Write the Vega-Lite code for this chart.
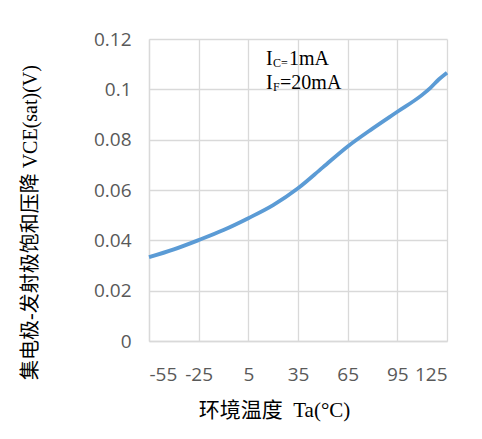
{
  "$schema": "https://vega.github.io/schema/vega-lite/v6.json",
  "autosize": {"type": "none"},
  "width": 298,
  "height": 302,
  "padding": {"left": 149, "top": 39, "right": 35, "bottom": 98},
  "background": "white",
  "config": {
    "view": {"stroke": null},
    "axis": {
      "labelFont": "Open Sans",
      "labelFontSize": 19,
      "labelColor": "#595959",
      "gridColor": "#d9d9d9",
      "gridWidth": 1.3,
      "domainColor": "#d9d9d9",
      "domainWidth": 1.3,
      "ticks": false
    },
    "text": {"font": "Liberation Serif", "color": "#000000", "align": "left", "baseline": "alphabetic"}
  },
  "datasets": {
    "curve": [
      {"Ta": -55, "V": 0.0333},
      {"Ta": -40, "V": 0.0364},
      {"Ta": -25, "V": 0.0401},
      {"Ta": -10, "V": 0.0441},
      {"Ta": 5, "V": 0.0488},
      {"Ta": 20, "V": 0.054},
      {"Ta": 35, "V": 0.0607},
      {"Ta": 50, "V": 0.069},
      {"Ta": 65, "V": 0.0773},
      {"Ta": 80, "V": 0.0844},
      {"Ta": 95, "V": 0.0911},
      {"Ta": 110, "V": 0.0978},
      {"Ta": 115, "V": 0.1006},
      {"Ta": 120, "V": 0.1039},
      {"Ta": 125, "V": 0.1066}
    ],
    "note": [{}]
  },
  "layer": [
    {
      "data": {"name": "curve"},
      "mark": {"type": "line", "color": "#5b9bd5", "strokeWidth": 3.8, "interpolate": "monotone"},
      "encoding": {
        "x": {
          "field": "Ta", "type": "quantitative",
          "scale": {"domain": [-55, 125], "nice": false, "zero": false},
          "axis": {
            "values": [-55, -25, 5, 35, 65, 95, 125],
            "labelExpr": "'' + datum.value",
            "labelPadding": 24,
            "title": "环境温度\u00a0\u00a0Ta(°C)",
            "titleFont": "Liberation Serif, Noto Sans CJK SC",
            "titleFontWeight": "normal",
            "titleFontSize": 21,
            "titleColor": "#000000",
            "titleX": 125,
            "titleY": 69,
            "titleBaseline": "middle",
            "titleAlign": "center"
          }
        },
        "y": {
          "field": "V", "type": "quantitative",
          "scale": {"domain": [0, 0.12], "nice": false},
          "axis": {
            "values": [0, 0.02, 0.04, 0.06, 0.08, 0.1, 0.12],
            "format": ".2~f",
            "labelPadding": 18,
            "title": "集电极-发射极饱和压降 VCE(sat)(V)",
            "titleFont": "Liberation Serif, Noto Sans CJK SC",
            "titleFontWeight": "normal",
            "titleFontSize": 20,
            "titleColor": "#000000",
            "titleAngle": -90,
            "titleX": -119,
            "titleY": 183,
            "titleBaseline": "middle",
            "titleAlign": "center"
          }
        }
      }
    },
    {
      "data": {"name": "note"},
      "mark": {"type": "text", "text": "I", "fontSize": 20},
      "encoding": {"x": {"datum": 15.7}, "y": {"datum": 0.1096}}
    },
    {
      "data": {"name": "note"},
      "mark": {"type": "text", "text": "C=", "fontSize": 12, "dx": 7, "dy": 2},
      "encoding": {"x": {"datum": 15.7}, "y": {"datum": 0.1096}}
    },
    {
      "data": {"name": "note"},
      "mark": {"type": "text", "text": "1mA", "fontSize": 20, "dx": 23},
      "encoding": {"x": {"datum": 15.7}, "y": {"datum": 0.1096}}
    },
    {
      "data": {"name": "note"},
      "mark": {"type": "text", "text": "I", "fontSize": 20},
      "encoding": {"x": {"datum": 15.7}, "y": {"datum": 0.1}}
    },
    {
      "data": {"name": "note"},
      "mark": {"type": "text", "text": "F", "fontSize": 12, "dx": 7, "dy": 2},
      "encoding": {"x": {"datum": 15.7}, "y": {"datum": 0.1}}
    },
    {
      "data": {"name": "note"},
      "mark": {"type": "text", "text": "=20mA", "fontSize": 20, "dx": 14},
      "encoding": {"x": {"datum": 15.7}, "y": {"datum": 0.1}}
    }
  ]
}
